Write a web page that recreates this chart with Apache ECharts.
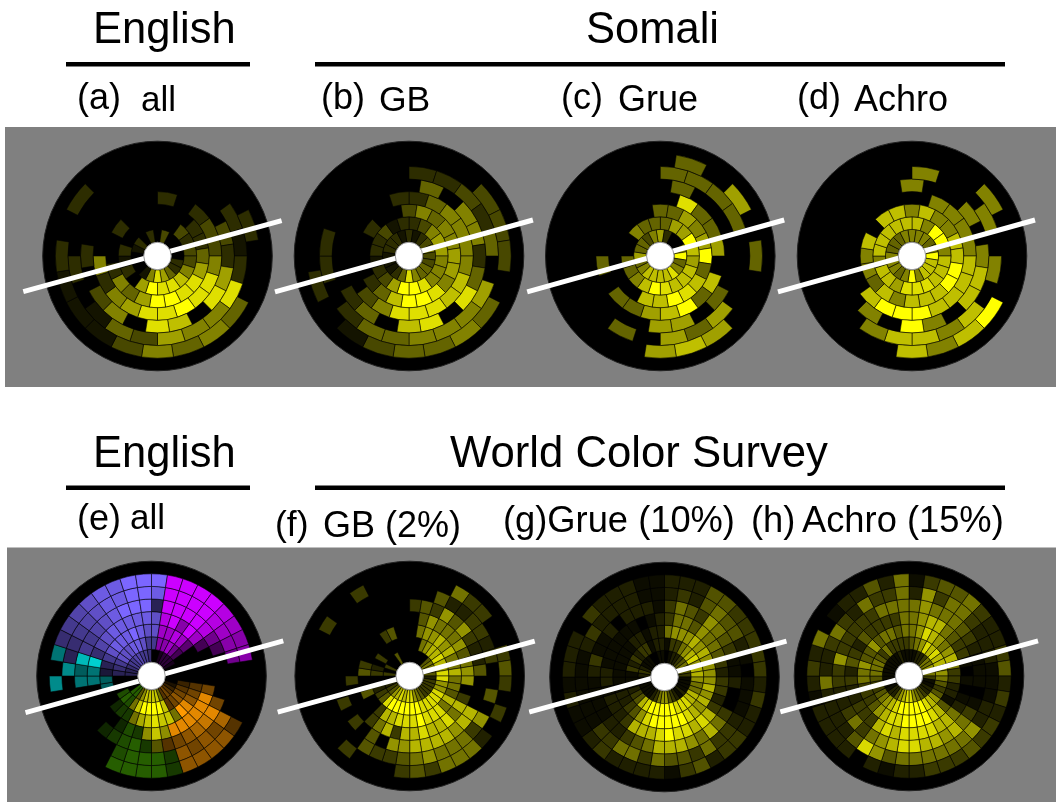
<!DOCTYPE html>
<html><head><meta charset="utf-8">
<style>html,body{margin:0;padding:0;background:#fff}#c{width:1056px;height:802px}</style>
<script src="https://cdn.jsdelivr.net/npm/echarts@6/dist/echarts.min.js"></script>
</head><body><div id="c"></div>
<script>
// Brightness levels 0-9, one string per ring (inner to outer), one digit per sector clockwise from north.
const panelA = ["03000022468510001202","00323357889602120000","00022468899645200200","20233588988652500000","00003268078053020000","00021285563410200000","00002004545311120200"];
const panelB = ["21235334458421112221","23566555899632122312","35455665899742000200","24555577888530000002","04055248087042000000","22324065554420220000","00033304544310200000"];
const panelC = ["62005945877775464435","46697677789754400544","44656947897700000000","08446074976440400000","04000004066000000000","44440006460400000000","04060400676000000000"];
const panelD = ["55545977759545554445","75995777888677577777","57557799777574557077","05555777799970000000","50050577059050000000","50050507577500000000","00050009757000000000"];
const panelE = [
 "0012221000001234347777535500003345566554",
 "5667530000023454379999744540003457778875",
 "7778740000034589477876433200442357888987",
 "7896973000048888885753420000055946788888",
 "3999985300004876543335432000054855678999",
 "8999987650000645453555400000006345678899",
 "9999987660000355553555500000060545678899"
];
const hueE = [
 "..MMMMM.....OOOOOYYYYYYYGG....PPPPPPPPPP",
 "PMMMMM.....OOOOOOYYYYYYYGGG...PPPPPPPPPP",
 "PMMMMM.....OOOOOYYYYYYYGGG..TTPPPPPPPPPP",
 "PMMMMMM....OOOOOOOYYYGGG.....TTTPPPPPPPP",
 "PMMMMMMM....OOOOOOOYGGGGG....TTTPPPPPPPP",
 "PMMMMMMMM....OOOOOGGGGG.......TPPPPPPPPP",
 "PMMMMMMMM....OOOOOGGGGG......T.TPPPPPPPP"
];
const panelF = [
 "0000045544233333456887876432003030004000",
 "0056778768866888889999998432003203000000",
 "0566767557554758889888773004004300003400",
 "0465556456603758778773753000030000000000",
 "3436463224000776777766040303000000000000",
 "0042233230040635556543340000000000000000",
 "0005330034303025553430003000000003003000"
];
const panelG = [
 "0122345443111121234665321111112321110011",
 "1335678677655778889999987432111323233122",
 "5666767666676767899999864322111111122122",
 "3554655432332378788987773222122111111012",
 "3543654311200357567775432211112311202221",
 "2324544210111233534453553311111123222211",
 "2224433333232233243122223211212220322211"
];
const panelH = [
 "1122355665311223456887642211111111111211",
 "4568787766543467899999876543345554353333",
 "5687656753322147899998876433355644645545",
 "5677543310101257788887873332232432433335",
 "5655543211101357677887653532233633333555",
 "2635532221112265555554684222252235325335",
 "1344532234232334333221202222123250122425"
];
// Line ends per panel: [radius, angle] pairs, in ring units and degrees clockwise from north.
const lineA = [[10.91,255.1],[10.13,74.1]];
const lineB = [[10.90,255.0],[10.13,73.8]];
const lineC = [[10.83,254.9],[10.13,73.8]];
const lineD = [[10.90,255.0],[10.06,73.7]];
const lineE = [[10.30,253.8],[10.71,75.1]];
const lineF = [[10.75,254.7],[10.19,74.4]];
const lineG = [[11.00,255.5],[9.98,73.6]];
const lineH = [[10.49,254.4],[10.50,74.8]];
const titles = ["English","Somali","(a)","all","(b)","GB","(c)","Grue","(d)","Achro","English","World Color Survey","(e)","all","(f)","GB (2%)","(g)Grue (10%)","(h)","Achro (15%)"];

const hueColor = {Y:[255,255,0],P:[123,102,255],M:[204,0,255],O:[255,153,0],G:[68,170,0],T:[0,208,208]};
const panels = [
 {rings:panelA,line:lineA,c:[157.5,256],n:20,g:1.15},{rings:panelB,line:lineB,c:[409,256],n:20,g:1.15},
 {rings:panelC,line:lineC,c:[660.3,256],n:20,g:1.15},{rings:panelD,line:lineD,c:[912,256],n:20,g:1.15},
 {rings:panelE,hue:hueE,line:lineE,c:[151.5,676],n:40,g:1},{rings:panelF,line:lineF,c:[409.7,676],n:40,g:1.35},
 {rings:panelG,line:lineG,c:[664.5,677],n:40,g:1.4},{rings:panelH,line:lineH,c:[909,676],n:40,g:1.35}
];
const DISC=9.0, HUB=0.98;
function sectorOf(params,api,r0,r1,a0,a1){
  const cx=params.coordSys.cx, cy=params.coordSys.cy;
  const p0=api.coord([r0,a0]), p1=api.coord([r1,a1]);
  let s=Math.atan2(p0[1]-cy,p0[0]-cx), e=Math.atan2(p1[1]-cy,p1[0]-cx);
  if(e<s) e+=2*Math.PI;
  return {cx,cy,r0:Math.hypot(p0[0]-cx,p0[1]-cy),r:Math.hypot(p1[0]-cx,p1[1]-cy),startAngle:s,endAngle:e,clockwise:true};
}
function cellItem(params,api){
  const ring=api.value(0), mid=api.value(1), w=api.value(2), k=api.value(3), rgb=[api.value(4),api.value(5),api.value(6)];
  return {type:'sector',shape:sectorOf(params,api,ring,ring+1,mid-w,mid+w),
    style:{fill:`rgb(${rgb.map(v=>Math.round(v*k)).join(',')})`,stroke:'rgba(0,0,0,0.55)',lineWidth:1}};
}
function roundItem(fill,stroke){
  return function(params,api){
    const cx=params.coordSys.cx, cy=params.coordSys.cy, p=api.coord([api.value(0),0]);
    return {type:'circle',shape:{cx,cy,r:Math.hypot(p[0]-cx,p[1]-cy)},style:{fill,stroke,lineWidth:1}};
  };
}
const polar=[],radiusAxis=[],angleAxis=[],series=[];
panels.forEach((p,i)=>{
  polar.push({center:p.c,radius:[1.4,140]});
  radiusAxis.push({polarIndex:i,type:'value',min:0,max:11,show:false});
  angleAxis.push({polarIndex:i,type:'value',min:0,max:360,startAngle:90,clockwise:true,show:false});
  const data=[];
  p.rings.forEach((str,ri)=>{
    const ring=ri+1, step=360/p.n;
    for(let j=0;j<p.n;j++){
      const lv=+str[j]; if(!lv) continue;
      let mid;
      if(p.n===20) mid=(ring%2===1)? j*step : j*step+step/2;
      else mid=j*step+step/2;
      const h=p.hue? p.hue[ri][j] : 'Y';
      if(h==='.') continue;
      const rgb=hueColor[h];
      data.push([ring,mid,step/2,Math.pow(lv/9,p.g),rgb[0],rgb[1],rgb[2]]);
    }
  });
  const base={coordinateSystem:'polar',polarIndex:i,silent:true,animation:false};
  series.push({...base,type:'custom',z:2,data:[[DISC,0]],encode:{radius:0,angle:1},renderItem:roundItem('#000','#222')});
  series.push({...base,type:'custom',z:3,data,encode:{radius:0,angle:1},renderItem:cellItem});
  series.push({...base,type:'line',z:4,clip:false,data:p.line,showSymbol:false,symbol:'none',lineStyle:{color:'#fff',width:5}});
  series.push({...base,type:'custom',z:5,data:[[HUB,0]],encode:{radius:0,angle:1},renderItem:roundItem('#fff','#9a9a9a')});
});
const FONT='"Liberation Sans",Arial,sans-serif';
const txt=(s,x,y,size)=>({type:'text',z:6,style:{text:s,x,y,font:`${size}px ${FONT}`,fill:'#000',textVerticalAlign:'middle',verticalAlign:'middle'}});
const bar=(x,y,w,h,fill)=>({type:'rect',z:h>10?0:6,shape:{x,y,width:w,height:h},style:{fill}});
const graphic=[
 bar(5,127,1051,260,'#808080'),bar(7,547.5,1049,254.5,'#808080'),
 bar(66,62,184,4.5,'#000'),bar(315,62,690,4.5,'#000'),bar(66,485.5,184,4.5,'#000'),bar(315,485.5,690,4.5,'#000'),
 txt(titles[0],93,31,43.5),txt(titles[1],586,31,43.5),
 txt(titles[2],77,99,36),txt(titles[3],141,101,35),txt(titles[4],321,99,36),txt(titles[5],379,101,35.5),
 txt(titles[6],561,99,36),txt(titles[7],618,101,36),txt(titles[8],797,99,36),txt(titles[9],854,101,36),
 txt(titles[10],93,455,43.5),txt(titles[11],450,455,43.7),
 txt(titles[12],77,520,36),txt(titles[13],130,519,35),txt(titles[14],275,526,35.5),txt(titles[15],323,527,36),
 txt(titles[16],503,522,36.3),txt(titles[17],751,522,36.3),txt(titles[18],802,522,36.3)
];
const chart=echarts.init(document.getElementById('c'),null,{renderer:'canvas'});
chart.setOption({animation:false,backgroundColor:'#fff',polar,radiusAxis,angleAxis,series,graphic:{elements:graphic}});
</script></body></html>
